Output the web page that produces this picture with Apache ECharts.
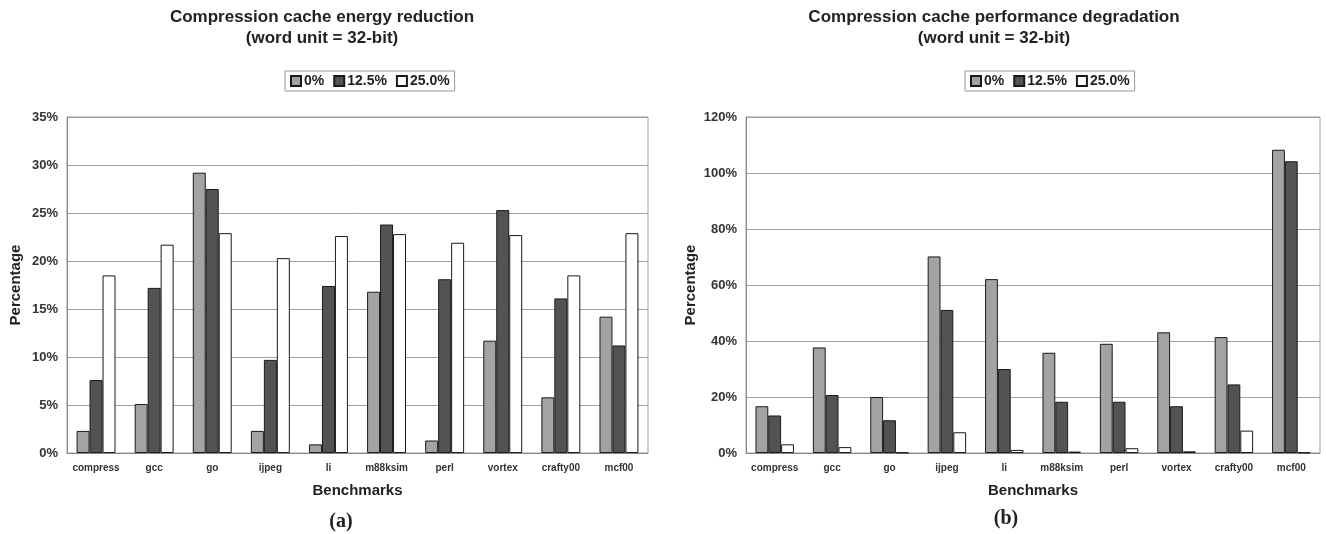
<!DOCTYPE html>
<html>
<head>
<meta charset="utf-8">
<script src="https://cdn.jsdelivr.net/npm/echarts@6/dist/echarts.min.js"></script>
<style>
html,body{margin:0;padding:0;background:#fff;}
#chart{width:1326px;height:534px;}
</style>
</head>
<body>
<div id="chart"></div>
<script>
const categories = ['compress','gcc','go','ijpeg','li','m88ksim','perl','vortex','crafty00','mcf00'];
const seriesNames = ['0%','12.5%','25.0%'];

// (a) energy reduction, percent
const energy0 = [2.3, 5.1, 29.2, 2.3, 0.9, 16.8, 1.3, 11.7, 5.8, 14.2];
const energy125 = [7.6, 17.2, 27.5, 9.7, 17.4, 23.8, 18.1, 25.3, 16.1, 11.2];
const energy25 = [18.5, 21.7, 22.9, 20.3, 22.6, 22.8, 21.9, 22.7, 18.5, 22.9];

// (b) performance degradation, percent
const perf0 = [16.7, 37.7, 20.0, 70.2, 62.1, 35.8, 39.0, 43.1, 41.4, 108.3];
const perf125 = [13.4, 20.7, 11.7, 51.1, 30.0, 18.3, 18.3, 16.7, 24.5, 104.2];
const perf25 = [3.1, 2.1, 0.2, 7.4, 1.1, 0.5, 1.7, 0.6, 8.0, 0.2];

const titleA = 'Compression cache energy reduction';
const titleB = 'Compression cache performance degradation';
const subTitle = '(word unit = 32-bit)';

const FONT = 'Arial, "Liberation Sans", sans-serif';
const colors = ['#a3a3a3', '#535353', '#ffffff'];
const GRID_COLOR = '#a0a0a0';

function mkSeries(name, data, idx, color) {
  return {
    name: name, type: 'bar', xAxisIndex: idx, yAxisIndex: idx, data: data,
    barGap: '0%', barCategoryGap: '33%',
    itemStyle: { color: color, borderColor: '#1a1a1a', borderWidth: 1 },
    emphasis: { disabled: true }, animation: false
  };
}

function xAxis(idx) {
  return {
    type: 'category', gridIndex: idx, data: categories,
    name: 'Benchmarks', nameLocation: 'middle', nameGap: 30,
    nameTextStyle: { fontFamily: FONT, fontWeight: 'bold', fontSize: 15, color: '#222' },
    axisLine: { lineStyle: { color: '#888' } },
    axisTick: { inside: true, length: 4, lineStyle: { color: '#888' } },
    axisLabel: { fontFamily: FONT, fontWeight: 'bold', fontSize: 10, color: '#333', margin: 10, interval: 0 }
  };
}

function yAxis(idx, max, interval) {
  return {
    type: 'value', gridIndex: idx, min: 0, max: max, interval: interval,
    name: 'Percentage', nameLocation: 'middle', nameGap: idx === 0 ? 44 : 48,
    nameTextStyle: { fontFamily: FONT, fontWeight: 'bold', fontSize: 15, color: '#222' },
    axisLine: { show: true, lineStyle: { color: '#888' } },
    axisTick: { show: false },
    axisLabel: { fontFamily: FONT, fontWeight: 'bold', fontSize: 13, color: '#333', margin: 9,
      formatter: v => v + '%' },
    splitLine: { lineStyle: { color: GRID_COLOR, width: 1 } }
  };
}

function legend(left) {
  return {
    data: seriesNames, left: left, top: 71, orient: 'horizontal',
    icon: 'rect', itemWidth: 10, itemHeight: 10, itemGap: 9,
    borderColor: '#999', borderWidth: 1, padding: [3, 5, 3, 5],
    textStyle: { fontFamily: FONT, fontWeight: 'bold', fontSize: 14, color: '#222', padding: [0, 0, 0, -2] },
    selectedMode: false
  };
}

function txt(x, y, text, size, family, weight) {
  return { type: 'text', x: x, y: y, style: { text: text, fontFamily: family, fontSize: size,
    fontWeight: weight || 'bold', fill: '#222', textAlign: 'center', textVerticalAlign: 'middle' } };
}

const chart = echarts.init(document.getElementById('chart'), null, { renderer: 'canvas' });
chart.setOption({
  backgroundColor: '#fff',
  animation: false,
  grid: [
    { left: 67, top: 117, width: 581, height: 336, show: true, borderColor: GRID_COLOR, borderWidth: 1, backgroundColor: '#fff' },
    { left: 746, top: 117, width: 574, height: 336, show: true, borderColor: GRID_COLOR, borderWidth: 1, backgroundColor: '#fff' }
  ],
  legend: [legend(285), legend(965)],
  xAxis: [xAxis(0), xAxis(1)],
  yAxis: [yAxis(0, 35, 5), yAxis(1, 120, 20)],
  series: [
    mkSeries(seriesNames[0], energy0, 0, colors[0]),
    mkSeries(seriesNames[1], energy125, 0, colors[1]),
    mkSeries(seriesNames[2], energy25, 0, colors[2]),
    mkSeries(seriesNames[0], perf0, 1, colors[0]),
    mkSeries(seriesNames[1], perf125, 1, colors[1]),
    mkSeries(seriesNames[2], perf25, 1, colors[2])
  ],
  graphic: [
    txt(322, 17, titleA, 17, FONT),
    txt(322, 38, subTitle, 17, FONT),
    txt(994, 17, titleB, 17, FONT),
    txt(994, 38, subTitle, 17, FONT),
    txt(341, 522, '(a)', 20, '"Liberation Serif", "Times New Roman", serif'),
    txt(1006, 519, '(b)', 20, '"Liberation Serif", "Times New Roman", serif')
  ]
});
</script>
</body>
</html>
